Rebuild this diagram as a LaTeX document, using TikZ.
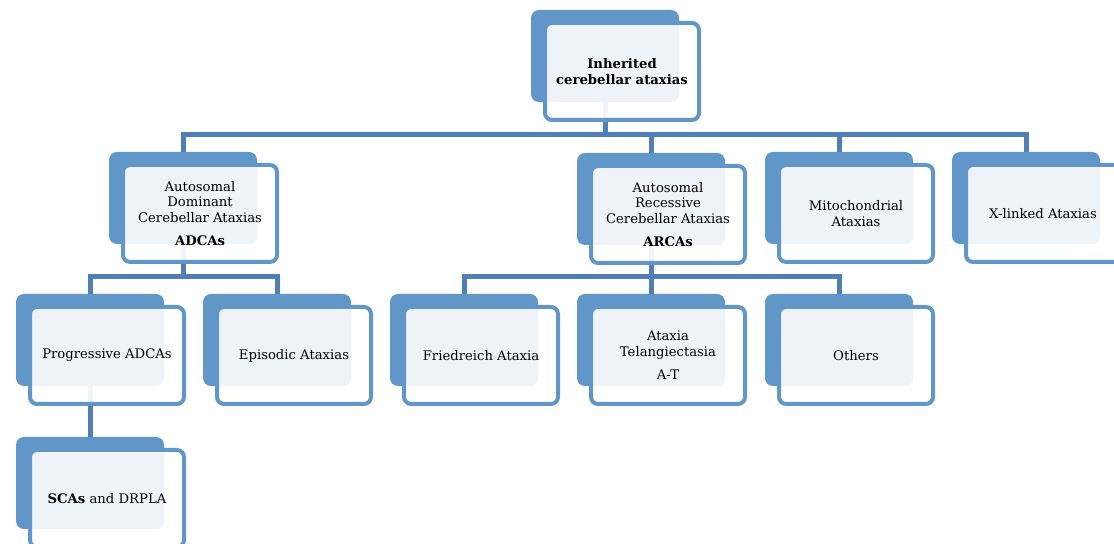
\documentclass[tikz,border=0pt]{standalone}
\usepackage{fontspec}
\setmainfont{DejaVu Serif}
\usetikzlibrary{positioning,calc}
\pgfdeclarelayer{background}
\pgfsetlayers{background,main}
\definecolor{boxblue}{RGB}{96,150,200}
\definecolor{paleblue}{RGB}{238,243,248}
\definecolor{linkblue}{RGB}{79,127,180}

% back card + front card with text
\newcommand{\ataxbox}[4]{%
  \node[backbox] (#1-b) at (#2,#3) {};
  \node[frontbox, path picture={
      \clip ([shift={(2,2)}]path picture bounding box.north west) rectangle
            ([shift={(-2,-2)}]path picture bounding box.south east);
      \fill[paleblue, fill opacity=1, rounded corners=4pt] (#1-b.north west) rectangle (#1-b.south east);}]
    (#1) at ([shift={(14,13)}]#1-b.north west) {#4};
}

\begin{document}
\begin{tikzpicture}[x=0.5pt, y=-0.5pt,
  backbox/.style={rectangle, fill=boxblue, rounded corners=4pt, minimum width=74pt,
    minimum height=46pt, inner sep=0pt, outer sep=0pt, anchor=north west},
  frontbox/.style={rectangle, draw=boxblue, line width=2pt, fill=white, fill opacity=0.92,
    text opacity=1, rounded corners=3.5pt, minimum width=77pt, minimum height=48.5pt,
    inner sep=1pt, outer sep=0pt, align=center, anchor=north west,
    font=\fontsize{6.6}{7.75}\selectfont},
  conn/.style={draw=linkblue, line width=2.5pt}]
\useasboundingbox (0,0) rectangle (1114,544);

% level 1
\ataxbox{top}{531}{10}{\textbf{Inherited}\\\textbf{cerebellar ataxias}}
% level 2
\ataxbox{adca}{109}{152}{Autosomal\\Dominant\\Cerebellar Ataxias\\[4pt]\textbf{ADCAs}}
\ataxbox{arca}{577}{153}{Autosomal\\Recessive\\Cerebellar Ataxias\\[4pt]\textbf{ARCAs}}
\ataxbox{mito}{765}{152}{Mitochondrial\\Ataxias}
\ataxbox{xlink}{952}{152}{X-linked Ataxias}
% level 3
\ataxbox{prog}{16}{294}{Progressive ADCAs}
\ataxbox{epi}{203}{294}{Episodic Ataxias}
\ataxbox{fried}{390}{294}{Friedreich Ataxia}
\ataxbox{at}{577}{294}{Ataxia\\Telangiectasia\\[4pt]A-T}
\ataxbox{others}{765}{294}{Others}
% level 4
\ataxbox{scas}{16}{437}{\textbf{SCAs} and DRPLA}

% connectors
\coordinate (bus1) at (0,135);
\coordinate (bus2) at (0,277);
\begin{pgfonlayer}{background}
\foreach \c in {adca,arca,mito,xlink}
  \draw[conn] (top-b.center) -- (top-b.center |- bus1) -| (\c-b.center);
\foreach \c in {prog,epi}
  \draw[conn] (adca-b.center) -- (adca-b.center |- bus2) -| (\c-b.center);
\foreach \c in {fried,at,others}
  \draw[conn] (arca-b.center) -- (arca-b.center |- bus2) -| (\c-b.center);
\draw[conn] (prog-b.center) -- (scas-b.center);
\end{pgfonlayer}
\end{tikzpicture}
\end{document}
